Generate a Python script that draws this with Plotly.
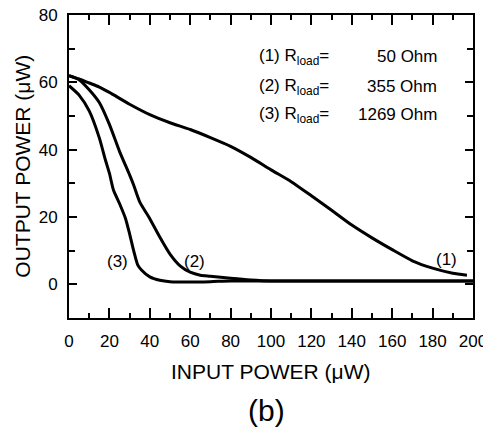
import plotly.graph_objects as go

# Curve (1) R_load = 50 Ohm
x1 = [0, 5, 10, 15, 20, 30, 40, 50, 60, 70, 80, 90, 100, 110, 120, 130, 140, 150, 160, 170, 180, 190, 197]
y1 = [62, 61, 59.8, 58.6, 57, 53.5, 50.4, 48, 46, 43.6, 41, 37.7, 34, 30.5, 26.3, 22, 17.6, 13.8, 10.3, 7.0, 4.8, 3.3, 2.7]
# Curve (2) R_load = 355 Ohm
x2 = [0, 5, 10, 15, 20, 25, 30, 32, 35, 40, 45, 50, 55, 60, 65, 70, 80, 90, 100, 120, 150, 200]
y2 = [62, 60.8, 57.8, 54, 47.5, 39.5, 32.5, 29.5, 24.5, 19.5, 14, 9, 5.5, 3.6, 2.7, 2.4, 1.8, 1.3, 1.0, 1.0, 1.0, 1.0]
# Curve (3) R_load = 1269 Ohm
x3 = [0, 5, 10, 15, 18, 20, 22, 25, 28, 30, 32, 34, 36, 40, 45, 50, 60, 70, 80, 100, 200]
y3 = [59, 56.2, 51.5, 43.5, 37, 33, 28, 24, 19.5, 15, 10, 5.8, 4.2, 2.2, 1.2, 0.8, 0.7, 0.8, 1.0, 1.0, 1.0]

curve_labels = ["(1)", "(2)", "(3)"]
curve_label_x = [187, 62, 24]
curve_label_y = [7.4, 6.8, 6.8]

legend_left = ["(1) R<sub>load</sub>=", "(2) R<sub>load</sub>=", "(3) R<sub>load</sub>="]
legend_right = ["50 Ohm", "355 Ohm", "1269 Ohm"]
legend_y = [67.6, 58.7, 50.4]

x_title = "INPUT POWER (μW)"
y_title = "OUTPUT POWER (μW)"
panel_label = "(b)"

FONT = "Liberation Sans, Arial, sans-serif"

fig = go.Figure()
for xs, ys in [(x1, y1), (x2, y2), (x3, y3)]:
    fig.add_trace(go.Scatter(x=xs, y=ys, mode="lines",
                             line=dict(color="black", width=3, shape="spline", smoothing=0.6),
                             showlegend=False, hoverinfo="skip"))

for t, xx, yy in zip(curve_labels, curve_label_x, curve_label_y):
    fig.add_annotation(x=xx, y=yy, text=t, showarrow=False,
                       font=dict(family=FONT, size=17, color="black"))

for l, r, yy in zip(legend_left, legend_right, legend_y):
    fig.add_annotation(x=93, y=yy, text=l, showarrow=False, xanchor="left",
                       font=dict(family=FONT, size=17, color="black"))
    fig.add_annotation(x=183, y=yy, text=r, showarrow=False, xanchor="right",
                       font=dict(family=FONT, size=17, color="black"))

fig.add_annotation(xref="paper", yref="paper", x=0.5, y=-0.175, text=x_title,
                   showarrow=False, yanchor="middle", xanchor="center",
                   font=dict(family=FONT, size=21, color="black"))
fig.add_annotation(xref="paper", yref="paper", x=-0.116, y=0.5, text=y_title,
                   showarrow=False, yanchor="middle", xanchor="center", textangle=-90,
                   font=dict(family=FONT, size=21, color="black"))
fig.add_annotation(xref="paper", yref="paper", x=0.49, y=-0.304, text=panel_label,
                   showarrow=False, yanchor="middle", xanchor="center",
                   font=dict(family=FONT, size=30, color="black"))

fig.update_xaxes(range=[0, 200], tickvals=list(range(0, 201, 20)),
                 ticks="inside", ticklen=10, tickwidth=1.5, tickcolor="black",
                 minor=dict(dtick=10, ticks="inside", ticklen=5, tickwidth=1.5, tickcolor="black"),
                 showline=True, linewidth=2, linecolor="black", mirror="ticks",
                 showgrid=False, zeroline=False, automargin=False,
                 ticklabeloverflow="allow",
                 tickfont=dict(family=FONT, size=17, color="black"),
                 ticklabelstandoff=7)
fig.update_yaxes(range=[-10, 80], tickvals=list(range(0, 81, 20)),
                 ticks="inside", ticklen=8, tickwidth=1.5, tickcolor="black",
                 minor=dict(dtick=10, ticks="inside", ticklen=6, tickwidth=1.5, tickcolor="black"),
                 showline=True, linewidth=2, linecolor="black", mirror="ticks",
                 showgrid=False, zeroline=False, automargin=False,
                 ticklabeloverflow="allow",
                 tickfont=dict(family=FONT, size=17, color="black"),
                 ticklabelstandoff=6)

# page body adds an 8px offset; shrink the figure so the plot area lands where the reference's does
fig.update_layout(width=483, height=429, margin=dict(l=61, r=18, t=7, b=119),
                  plot_bgcolor="white", paper_bgcolor="white")

fig.write_html("out.html")
